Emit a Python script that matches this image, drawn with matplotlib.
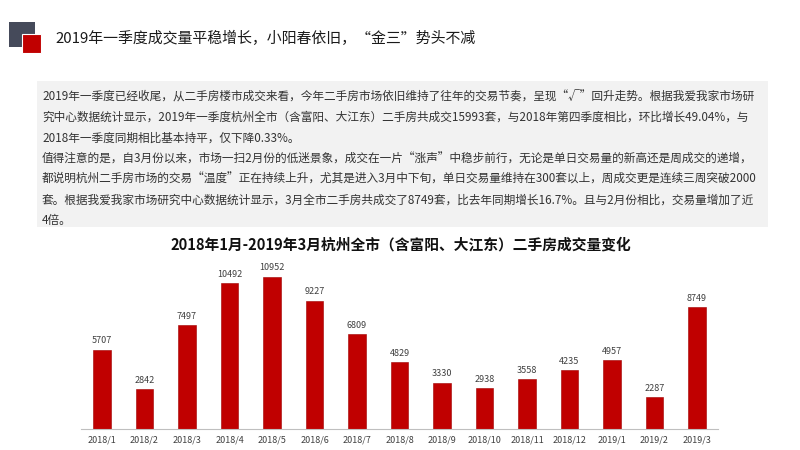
import matplotlib
matplotlib.use("Agg")
import matplotlib.pyplot as plt
from matplotlib.patches import Rectangle

plt.rcParams['font.family'] = ['Noto Sans CJK SC', 'DejaVu Sans']

months = ["2018/1", "2018/2", "2018/3", "2018/4", "2018/5", "2018/6", "2018/7", "2018/8",
          "2018/9", "2018/10", "2018/11", "2018/12", "2019/1", "2019/2", "2019/3"]
volumes = [5707, 2842, 7497, 10492, 10952, 9227, 6809, 4829,
           3330, 2938, 3558, 4235, 4957, 2287, 8749]

page_title = "2019年一季度成交量平稳增长，小阳春依旧，“金三”势头不减"
chart_title = "2018年1月-2019年3月杭州全市（含富阳、大江东）二手房成交量变化"
body_lines = [
    "2019年一季度已经收尾，从二手房楼市成交来看，今年二手房市场依旧维持了往年的交易节奏，呈现“√”回升走势。根据我爱我家市场研",
    "究中心数据统计显示，2019年一季度杭州全市（含富阳、大江东）二手房共成交15993套，与2018年第四季度相比，环比增长49.04%，与",
    "2018年一季度同期相比基本持平，仅下降0.33%。",
    "值得注意的是，自3月份以来，市场一扫2月份的低迷景象，成交在一片“涨声”中稳步前行，无论是单日交易量的新高还是周成交的递增，",
    "都说明杭州二手房市场的交易“温度”正在持续上升，尤其是进入3月中下旬，单日交易量维持在300套以上，周成交更是连续三周突破2000",
    "套。根据我爱我家市场研究中心数据统计显示，3月全市二手房共成交了8749套，比去年同期增长16.7%。且与2月份相比，交易量增加了近",
    "4倍。",
]

W, H = 800, 450
fig = plt.figure(figsize=(8, 4.5), dpi=100)
fig.patch.set_facecolor("white")

def px(x, y):
    return x / W, 1 - y / H

# header icon
fig.patches.append(Rectangle(px(9, 47), 26 / W, 25 / H, transform=fig.transFigure,
                             facecolor="#454a5a", edgecolor="none"))
fig.patches.append(Rectangle(px(22, 53), 19 / W, 19 / H, transform=fig.transFigure,
                             facecolor="#c00000", edgecolor="white", linewidth=0.8))
fig.text(*px(55, 38), page_title, fontsize=10.75, color="#1a1a1a", va="center", ha="left")

# grey text box
fig.patches.append(Rectangle(px(37, 227), (768 - 37) / W, (227 - 81) / H,
                             transform=fig.transFigure, facecolor="#f2f2f2", edgecolor="none"))
for i, line in enumerate(body_lines):
    fig.text(*px(42, 97 + i * 20.6), line, fontsize=8.42, color="#333333", va="center", ha="left")

fig.text(*px(401, 244), chart_title, fontsize=10.6, fontweight="bold", color="#111111",
         va="center", ha="center")

ax = fig.add_axes([80.75 / W, 21 / H, 637.5 / W, 167 / H])
x = range(len(months))
bars = ax.bar(x, volumes, width=0.41, color="#c00000", edgecolor="#a00000", linewidth=0.4)
for xi, v in zip(x, volumes):
    ax.annotate(str(v), (xi, v), xytext=(0, 3), textcoords="offset points",
                ha="center", va="bottom", fontsize=6.5, color="#404040")
ax.set_xlim(-0.5, 14.5)
ax.set_ylim(0, 12000)
ax.set_xticks(list(x))
ax.set_xticklabels(months, fontsize=6.5, color="#404040")
ax.tick_params(axis="x", length=0, pad=5)
ax.set_yticks([])
for s in ["top", "left", "right"]:
    ax.spines[s].set_visible(False)
ax.spines["bottom"].set_color("#bfbfbf")
ax.spines["bottom"].set_linewidth(0.8)
ax.patch.set_alpha(0)

fig.savefig("out.png", dpi=100)
